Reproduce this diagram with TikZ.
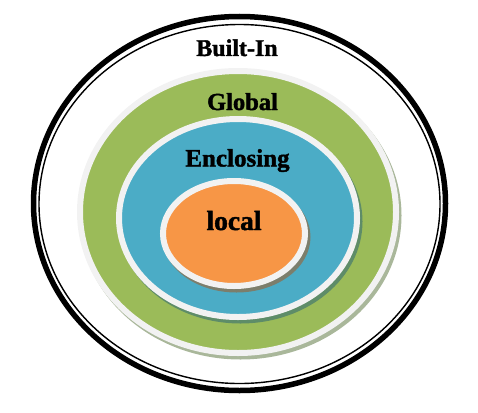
\documentclass[tikz,border=0pt]{standalone}
\usepackage{fontspec}
\setmainfont{Liberation Serif}[BoldFeatures={FakeBold=1.6}]
\definecolor{ringgray}{HTML}{F2F2F2}
\definecolor{greenfill}{HTML}{9BBB59}
\definecolor{bluefill}{HTML}{4BACC6}
\definecolor{orangefill}{HTML}{F79646}
\definecolor{greenshadow}{HTML}{A9B79A}
\definecolor{blueshadow}{HTML}{5E8C68}
\definecolor{orangeshadow}{HTML}{7C7E6C}
\tikzset{
  ringline/.style={draw=ringgray, line width=6pt},
  scopelabel/.style={anchor=base, inner sep=0pt, font=\bfseries},
}
\begin{document}
\begin{tikzpicture}[x=1pt,y=-1pt]
\useasboundingbox (0,0) rectangle (478,412);
% outer Built-In double ring
\draw[black, line width=5.5pt] (239.5,203.5) ellipse [x radius=206pt, y radius=187pt];
\draw[black, line width=1.4pt] (239.5,204) ellipse [x radius=200.5pt, y radius=179.5pt];
% Global
\fill[greenshadow] (240.5,215.5) ellipse [x radius=161pt, y radius=144pt];
\filldraw[fill=greenfill, ringline] (238,212) ellipse [x radius=158pt, y radius=141pt];
% Enclosing
\fill[blueshadow] (240.5,221.5) ellipse [x radius=122pt, y radius=102pt];
\filldraw[fill=bluefill, ringline] (238,218) ellipse [x radius=119pt, y radius=99pt];
% local
\fill[orangeshadow] (236.5,237) ellipse [x radius=74pt, y radius=55.5pt];
\filldraw[fill=orangefill, ringline] (234,233.5) ellipse [x radius=71pt, y radius=52.5pt];
% labels
\node[scopelabel, font=\bfseries\fontsize{24}{24}\selectfont] (builtin) at (237,56) {Built-In};
\node[scopelabel, font=\bfseries\fontsize{24.5}{24}\selectfont] (global) at (242.5,110) {Global};
\node[scopelabel, font=\bfseries\fontsize{25}{25}\selectfont] (enclosing) at (237.5,166.5) {Enclosing};
\node[scopelabel, font=\bfseries\fontsize{27.5}{27}\selectfont] (local) at (234,230) {local};
\end{tikzpicture}
\end{document}
